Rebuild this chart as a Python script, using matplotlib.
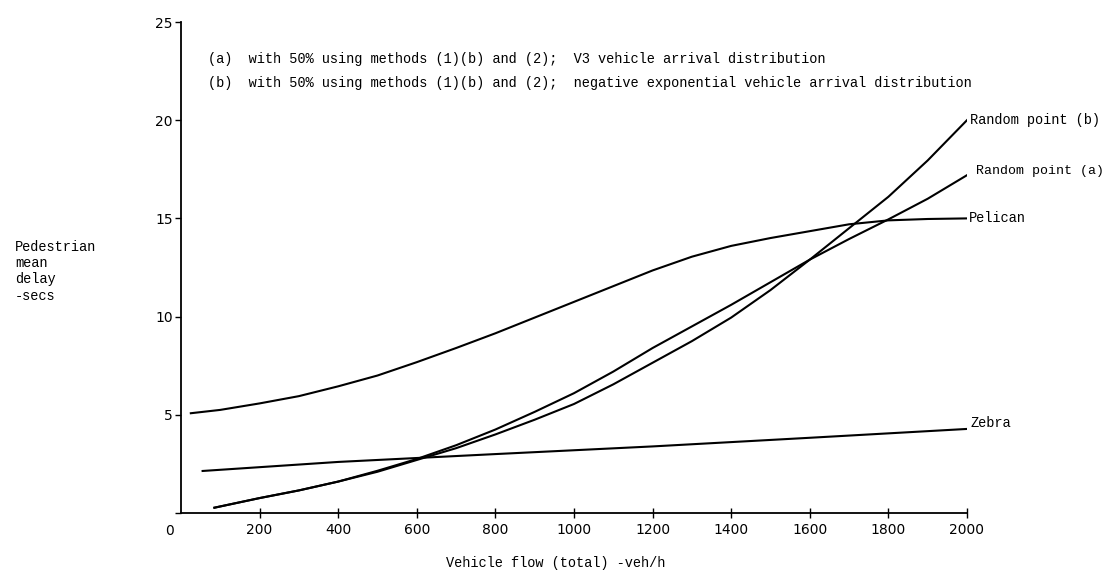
import matplotlib
matplotlib.use('Agg')
import matplotlib.pyplot as plt

# values
flow_rand = [85, 200, 300, 400, 500, 600, 700, 800, 900, 1000, 1100, 1200, 1300, 1400, 1500, 1600, 1700, 1800, 1900, 2000]
rand_a = [0.27, 0.76, 1.15, 1.6, 2.15, 2.75, 3.45, 4.25, 5.15, 6.1, 7.2, 8.4, 9.5, 10.6, 11.75, 12.9, 13.95, 14.95, 16.0, 17.2]
rand_b = [0.27, 0.76, 1.15, 1.6, 2.1, 2.7, 3.3, 4.0, 4.75, 5.55, 6.55, 7.65, 8.75, 9.95, 11.35, 12.9, 14.5, 16.1, 17.95, 20.0]

flow_pel = [25, 100, 200, 300, 400, 500, 600, 700, 800, 900, 1000, 1100, 1200, 1300, 1400, 1500, 1600, 1700, 1800, 1900, 2000]
pelican = [5.08, 5.25, 5.58, 5.95, 6.45, 7.0, 7.68, 8.4, 9.15, 9.95, 10.75, 11.55, 12.35, 13.05, 13.6, 14.0, 14.35, 14.7, 14.9, 14.97, 15.0]

flow_zeb = [55, 400, 800, 1200, 1600, 2000]
zebra = [2.14, 2.6, 3.0, 3.39, 3.83, 4.28]

x_ticks = [200, 400, 600, 800, 1000, 1200, 1400, 1600, 1800, 2000]
y_ticks = [0, 5, 10, 15, 20, 25]
y_tick_labels = ['', '5', '10', '15', '20', '25']

mono = 'Liberation Mono'
fs = 9.85
fig = plt.figure(figsize=(11.07, 5.70), dpi=100)
ax = fig.add_axes([0.1635, 0.1, 0.7100, 0.8614])

lw = 1.5
ax.plot(flow_rand, rand_b, color='black', lw=lw)
ax.plot(flow_rand, rand_a, color='black', lw=lw)
ax.plot(flow_pel, pelican, color='black', lw=lw)
ax.plot(flow_zeb, zebra, color='black', lw=lw)

ax.set_xlim(0, 2000)
ax.set_ylim(0, 25)
for s in ['top', 'right']:
    ax.spines[s].set_visible(False)
ax.spines['left'].set_linewidth(1.3)
ax.spines['bottom'].set_linewidth(1.3)

ax.set_xticks(x_ticks)
ax.set_yticks(y_ticks)
ax.set_yticklabels(y_tick_labels)
ax.tick_params(axis='x', direction='inout', length=7, width=1, labelsize=10, pad=4)
ax.tick_params(axis='y', direction='out', length=4, width=1, labelsize=10, pad=2)
for lab in ax.get_xticklabels() + ax.get_yticklabels():
    lab.set_family('DejaVu Sans')

# origin label sits left of the axis corner
ax.annotate('0', xy=(0, 0), xytext=(-11, -18), textcoords='offset pixels',
            ha='center', va='center', fontsize=10, family='DejaVu Sans')

# curve labels
ax.text(2008, 20.0, 'Random point (b)', fontsize=fs, family=mono, va='center', ha='left')
ax.text(2022, 17.4, 'Random point (a)', fontsize=9.5, family=mono, va='center', ha='left')
ax.text(2005, 15.0, 'Pelican', fontsize=fs, family=mono, va='center', ha='left')
ax.text(2010, 4.6, 'Zebra', fontsize=fs, family=mono, va='center', ha='left')

# notes
ax.text(68, 23.1, '(a)  with 50% using methods (1)(b) and (2);  V3 vehicle arrival distribution',
        fontsize=fs, family=mono, va='center', ha='left')
ax.text(68, 21.9, '(b)  with 50% using methods (1)(b) and (2);  negative exponential vehicle arrival distribution',
        fontsize=fs, family=mono, va='center', ha='left')

fig.text(15 / 1107, 1 - 240 / 570, 'Pedestrian\nmean\ndelay\n-secs', fontsize=fs, family=mono,
         va='top', ha='left', linespacing=1.2)
fig.text(556 / 1107, 1 - 563 / 570, 'Vehicle flow (total) -veh/h', fontsize=fs, family=mono,
         va='center', ha='center')

fig.savefig('out.png', dpi=100)
